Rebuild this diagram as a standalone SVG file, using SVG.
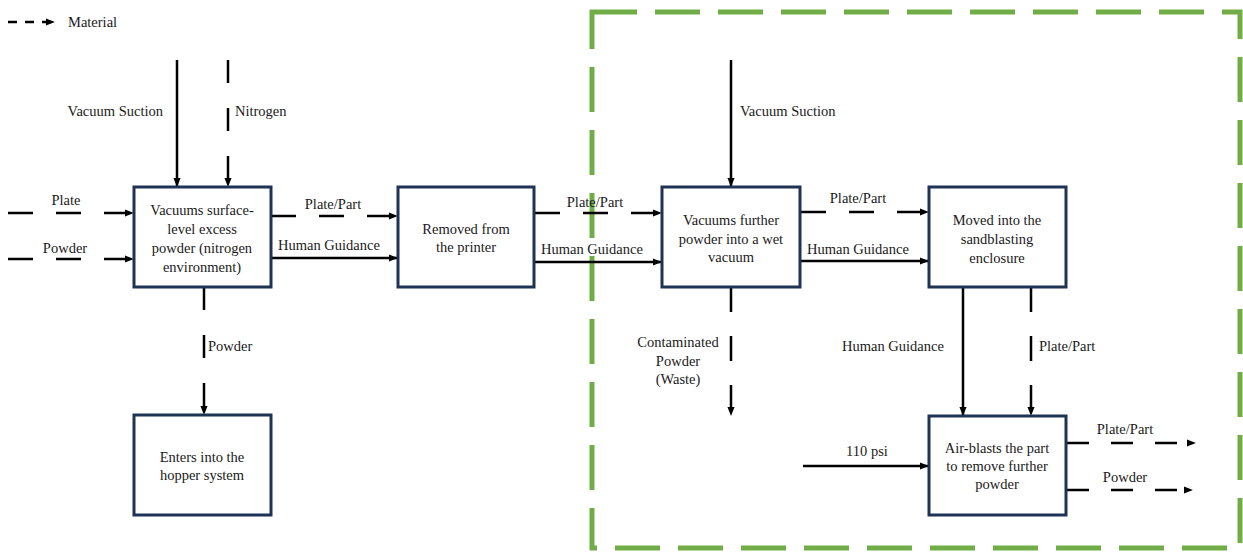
<svg xmlns="http://www.w3.org/2000/svg" width="1243" height="554" viewBox="0 0 1243 554" font-family="'Liberation Serif', 'DejaVu Serif', serif">
<defs>
<marker id="ah" viewBox="0 0 10 8" markerWidth="9" markerHeight="8" refX="9" refY="4" orient="auto" markerUnits="userSpaceOnUse">
<path d="M0,0 L10,4 L0,8 z" fill="#000"/>
</marker>
<style>
text{font-family:'Liberation Serif','DejaVu Serif',serif;font-size:14.5px;fill:#1a1a1a}
.node rect{fill:#fff;stroke:#1f3354;stroke-width:3}
.node text{text-anchor:middle}
.c{fill:none;stroke:#000;stroke-width:2.5}
.d{stroke-dasharray:25 23}
.a{marker-end:url(#ah)}
.mid{text-anchor:middle}
</style>
</defs>
<rect width="1243" height="554" fill="#fff"/>
<rect x="592" y="12" width="648" height="536" fill="none" stroke="#70ad47" stroke-width="5" stroke-dasharray="45 18"/>

<g id="legend">
<path class="c a" d="M8,22 H54" stroke-dasharray="9 8" stroke-width="3"/>
<text class="lbl" x="68" y="27">Material</text>
</g>

<g id="connectors">
<path class="c a" d="M177,60 V186"/>
<text class="lbl" x="163" y="116" text-anchor="end">Vacuum Suction</text>
<path class="c a" d="M228,60 V186" stroke-dasharray="23 25"/>
<text class="lbl" x="235" y="116">Nitrogen</text>
<path class="c d a" d="M8,213 H133"/>
<text class="lbl mid" x="66" y="205">Plate</text>
<path class="c d a" d="M8,259 H133"/>
<text class="lbl mid" x="65" y="253">Powder</text>
<path class="c d a" d="M271,216 H397"/>
<text class="lbl mid" x="333" y="209">Plate/Part</text>
<path class="c a" d="M271,258 H397"/>
<text class="lbl mid" x="329" y="250">Human Guidance</text>
<path class="c a" d="M204,287 V414" stroke-dasharray="23 25"/>
<text class="lbl" x="208" y="351">Powder</text>
<path class="c d a" d="M535,213 H661"/>
<text class="lbl mid" x="595" y="207">Plate/Part</text>
<path class="c a" d="M535,262 H661"/>
<text class="lbl mid" x="592" y="254">Human Guidance</text>
<path class="c a" d="M731,60 V186"/>
<text class="lbl" x="740" y="116">Vacuum Suction</text>
<path class="c a" d="M731,287 V415" stroke-dasharray="25 24"/>
<text class="lbl mid" x="678" y="347">Contaminated</text>
<text class="lbl mid" x="678" y="366">Powder</text>
<text class="lbl mid" x="678" y="384">(Waste)</text>
<path class="c d a" d="M801,212 H928"/>
<text class="lbl mid" x="858" y="203">Plate/Part</text>
<path class="c a" d="M801,261 H928"/>
<text class="lbl mid" x="858" y="254">Human Guidance</text>
<path class="c a" d="M963,287 V415"/>
<text class="lbl mid" x="893" y="351">Human Guidance</text>
<path class="c a" d="M1031,287 V415" stroke-dasharray="25 24"/>
<text class="lbl" x="1039" y="351">Plate/Part</text>
<path class="c a" d="M803,466 H928"/>
<text class="lbl mid" x="867" y="456">110 psi</text>
<path class="c a" d="M1067,443 H1195" stroke-dasharray="22 22"/>
<text class="lbl mid" x="1125" y="434">Plate/Part</text>
<path class="c a" d="M1067,490 H1192" stroke-dasharray="22 22"/>
<text class="lbl mid" x="1125" y="482">Powder</text>
</g>

<g id="n1" class="node">
<rect x="134" y="187" width="137" height="100"/>
<text x="202" y="215">Vacuums surface-</text>
<text x="202" y="234">level excess</text>
<text x="202" y="253">powder (nitrogen</text>
<text x="202" y="272">environment)</text>
</g>
<g id="n2" class="node">
<rect x="134" y="415" width="137" height="100"/>
<text x="202" y="462">Enters into the</text>
<text x="202" y="480">hopper system</text>
</g>
<g id="n3" class="node">
<rect x="398" y="187" width="136" height="100"/>
<text x="466" y="234">Removed from</text>
<text x="466" y="252">the printer</text>
</g>
<g id="n4" class="node">
<rect x="662" y="187" width="138" height="100"/>
<text x="731" y="225">Vacuums further</text>
<text x="731" y="244">powder into a wet</text>
<text x="731" y="262">vacuum</text>
</g>
<g id="n5" class="node">
<rect x="929" y="187" width="137" height="100"/>
<text x="997" y="225">Moved into the</text>
<text x="997" y="244">sandblasting</text>
<text x="997" y="263">enclosure</text>
</g>
<g id="n6" class="node">
<rect x="929" y="416" width="137" height="99"/>
<text x="997" y="453">Air-blasts the part</text>
<text x="997" y="471">to remove further</text>
<text x="997" y="489">powder</text>
</g>
</svg>
